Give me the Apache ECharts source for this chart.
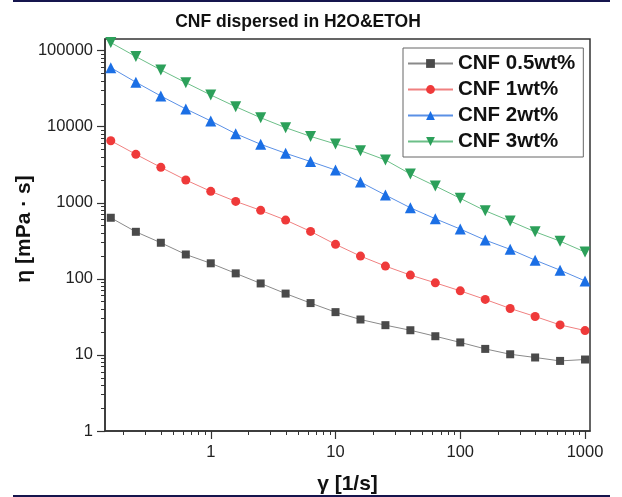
<!DOCTYPE html>
<html>
<head>
<meta charset="utf-8">
<script src="https://cdn.jsdelivr.net/npm/echarts@6/dist/echarts.min.js"></script>
<style>
html, body { margin: 0; padding: 0; background: #fff; }
#chart { width: 622px; height: 497px; }
</style>
</head>
<body>
<div id="chart"></div>
<script>
// shear rate (1/s), 5 points per decade
let shearRate = [0.158, 0.251, 0.398, 0.631, 1, 1.585, 2.512, 3.981, 6.31, 10, 15.85, 25.12, 39.81, 63.1, 100, 158.5, 251.2, 398.1, 631, 1000];
// viscosity (mPa·s)
let cnf05 = [635, 415, 298, 209, 160, 118, 87, 64, 48, 36.5, 29.2, 24.6, 21.1, 17.6, 14.6, 12.0, 10.2, 9.25, 8.34, 8.7];
let cnf1 = [6540, 4330, 2920, 1990, 1413, 1042, 795, 592, 420, 284, 199, 147, 112, 88.6, 69.5, 53.6, 40.8, 32.0, 24.8, 20.9];
let cnf2 = [59700, 38400, 25300, 17100, 11900, 8090, 5870, 4470, 3480, 2690, 1870, 1262, 859, 616, 451, 323, 244, 176, 130, 94];
let cnf3 = [127400, 83400, 55700, 37900, 26100, 18300, 13100, 9700, 7450, 5920, 4830, 3650, 2390, 1660, 1143, 785, 574, 415, 313, 225];
let seriesNames = ['CNF 0.5wt%', 'CNF 1wt%', 'CNF 2wt%', 'CNF 3wt%'];

let xMajor = [1, 10, 100, 1000];
let xMinor = [0.2, 0.3, 0.4, 0.5, 0.6, 0.7, 0.8, 0.9, 2, 3, 4, 5, 6, 7, 8, 9, 20, 30, 40, 50, 60, 70, 80, 90, 200, 300, 400, 500, 600, 700, 800, 900];
let yMajor = [1, 10, 100, 1000, 10000, 100000];
let yMinor = [2, 3, 4, 5, 6, 7, 8, 9, 20, 30, 40, 50, 60, 70, 80, 90, 200, 300, 400, 500, 600, 700, 800, 900,
  2000, 3000, 4000, 5000, 6000, 7000, 8000, 9000, 20000, 30000, 40000, 50000, 60000, 70000, 80000, 90000];

let xMin = 0.142, xMax = 1096;
let yMin = 1, yMax = 142000;

let font = '"Liberation Sans", Arial, sans-serif';
let axisColor = '#333';

let makeSeries = (name, values, symbol, rotate, size, color, lineColor) => {
  return {
    name: name,
    type: 'line',
    data: shearRate.map((x, i) => [x, values[i]]),
    symbol: symbol,
    symbolRotate: rotate,
    symbolSize: size,
    showAllSymbol: true,
    itemStyle: { color: color },
    lineStyle: { color: lineColor, width: 1 },
    emphasis: { disabled: true },
    z: 3
  };
};

let chart = echarts.init(document.getElementById('chart'));
let option = {
  animation: false,
  textStyle: { fontFamily: font },
  title: {
    text: 'CNF dispersed in H2O&ETOH',
    left: 293,
    textAlign: 'center',
    top: 8,
    textStyle: { fontFamily: font, fontSize: 17.5, fontWeight: 'bold', color: '#111' }
  },
  graphic: [
    { type: 'rect', shape: { x: 13, y: 0, width: 597, height: 2 }, style: { fill: '#15154d' } },
    { type: 'rect', shape: { x: 13, y: 495, width: 597, height: 2 }, style: { fill: '#15154d' } }
  ],
  grid: {
    left: 105, right: 32, top: 39, bottom: 66,
    outerBoundsMode: 'none',
    show: true, borderColor: axisColor, borderWidth: 1.5, backgroundColor: 'transparent'
  },
  legend: {
    orient: 'vertical',
    left: 403,
    top: 48,
    padding: [5, 8, 5, 4],
    itemWidth: 45,
    itemHeight: 11,
    itemGap: 5,
    borderColor: '#666',
    borderWidth: 1,
    textStyle: { fontFamily: font, fontSize: 20.5, fontWeight: 'bold', color: '#111' },
    data: seriesNames
  },
  xAxis: [{
    type: 'log',
    position: 'bottom',
    min: xMin, max: xMax,
    name: 'γ [1/s]',
    nameLocation: 'middle',
    nameGap: 43,
    nameMoveOverlap: false,
    nameTextStyle: { fontFamily: font, fontSize: 21, fontWeight: 'bold', color: '#111' },
    axisLine: { lineStyle: { color: axisColor, width: 1.5 } },
    axisTick: { length: 8, lineStyle: { color: axisColor, width: 1.2 }, customValues: xMajor },
    axisLabel: { customValues: xMajor, margin: 13, fontSize: 16.5, color: '#222', fontFamily: font,
      formatter: v => String(Math.round(v)) },
    splitLine: { show: false }
  }, {
    type: 'log',
    position: 'bottom',
    min: xMin, max: xMax,
    axisLine: { show: false },
    axisTick: { length: 4, lineStyle: { color: axisColor, width: 1 }, customValues: xMinor },
    axisLabel: { show: false },
    splitLine: { show: false }
  }],
  yAxis: [{
    type: 'log',
    position: 'left',
    min: yMin, max: yMax,
    name: 'η [mPa · s]',
    nameLocation: 'middle',
    nameGap: 70,
    nameMoveOverlap: false,
    nameRotate: 90,
    nameTextStyle: { fontFamily: font, fontSize: 21, fontWeight: 'bold', color: '#111', padding: [0, 0, 0, 12] },
    axisLine: { lineStyle: { color: axisColor, width: 1.5 } },
    axisTick: { length: 8, lineStyle: { color: axisColor, width: 1.2 }, customValues: yMajor },
    axisLabel: { customValues: yMajor, margin: 12, fontSize: 16.5, color: '#222', fontFamily: font,
      formatter: v => String(Math.round(v)) },
    splitLine: { show: false }
  }, {
    type: 'log',
    position: 'left',
    min: yMin, max: yMax,
    axisLine: { show: false },
    axisTick: { length: 4, lineStyle: { color: axisColor, width: 1 }, customValues: yMinor },
    axisLabel: { show: false },
    splitLine: { show: false }
  }],
  series: [
    makeSeries(seriesNames[0], cnf05, 'rect', 0, 8, '#4a4a4a', '#8a8a8a'),
    makeSeries(seriesNames[1], cnf1, 'circle', 0, 9, '#ef3a3a', '#f08080'),
    makeSeries(seriesNames[2], cnf2, 'triangle', 0, 11, '#1b6fe5', '#5a90e6'),
    makeSeries(seriesNames[3], cnf3, 'triangle', 180, 11, '#2ca05a', '#6cbf88')
  ]
};
chart.setOption(option);
</script>
</body>
</html>
